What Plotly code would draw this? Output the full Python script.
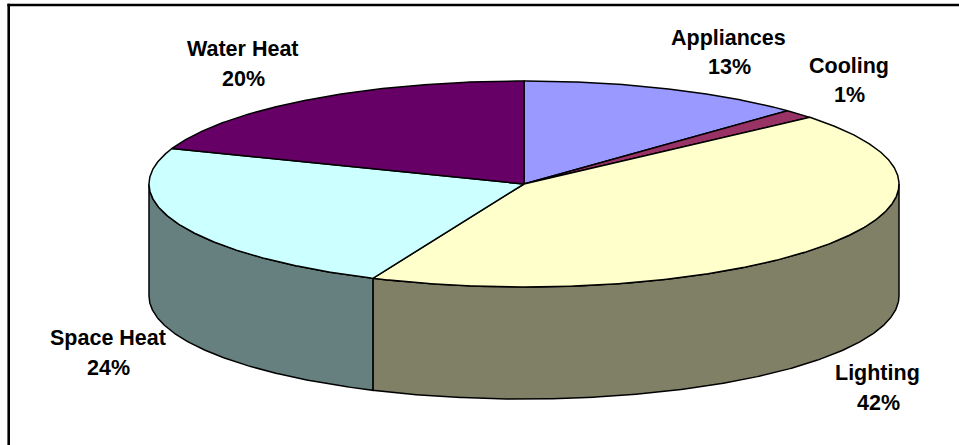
import numpy as np
import plotly.graph_objects as go

categories = ["Appliances", "Cooling", "Lighting", "Space Heat", "Water Heat"]
drawn_share = [12.4, 1.4, 42.8, 24.0, 19.4]
share_labels = ["13%", "1%", "42%", "24%", "20%"]
top_colors = ["#9999FF", "#993366", "#FFFFCC", "#CCFFFF", "#660066"]
side_colors = ["#4D4D80", "#4D1A33", "#808066", "#668080", "#330033"]
name_pos = [(728, 38), (849, 66), (877, 373), (108, 338), (243, 49)]
share_pos = [(729, 67), (849, 95), (878, 403), (108, 368), (243, 79)]

CX, CY, RX, RY, DEPTH = 524, 184, 375, 103, 112
EDGE = dict(color="black", width=1.5)


def ellipse(deg, dy=0.0):
    a = np.radians(deg)
    return CX + RX * np.sin(a), CY - RY * np.cos(a) + dy


def arc(a0, a1):
    return np.linspace(a0, a1, max(2, int(abs(a1 - a0) * 3)))


fig = go.Figure()
edges = np.concatenate([[0], np.cumsum(drawn_share)]) / np.sum(drawn_share) * 360

# Side walls (only the front half of the disc is visible)
for i, name in enumerate(categories):
    a0, a1 = max(edges[i], 90), min(edges[i + 1], 270)
    if a1 <= a0:
        continue
    t = arc(a0, a1)
    xt, yt = ellipse(t)
    xb, yb = ellipse(t[::-1], DEPTH)
    fig.add_trace(go.Scatter(
        x=np.r_[xt, xb, xt[0]], y=np.r_[yt, yb, yt[0]], mode="lines",
        fill="toself", fillcolor=side_colors[i], line=EDGE, hoverinfo="skip"))

# Top faces
for i, name in enumerate(categories):
    t = arc(edges[i], edges[i + 1])
    xt, yt = ellipse(t)
    fig.add_trace(go.Scatter(
        x=np.r_[CX, xt, CX], y=np.r_[CY, yt, CY], mode="lines",
        fill="toself", fillcolor=top_colors[i], line=EDGE, name=name, hoverinfo="name"))

FONT = dict(family="Liberation Sans", size=21.5, color="black")
for name, share, pn, ps in zip(categories, share_labels, name_pos, share_pos):
    fig.add_annotation(x=pn[0], y=pn[1], text=f"<b>{name}</b>", showarrow=False, font=FONT)
    fig.add_annotation(x=ps[0], y=ps[1], text=f"<b>{share}</b>", showarrow=False, font=FONT)

# Chart frame: only the left and top rules are in view
frame = dict(color="black", width=2.6)
fig.add_shape(type="line", x0=8.7, x1=8.7, y0=3.7, y1=445, line=frame, layer="below")
fig.add_shape(type="line", x0=7.4, x1=959, y0=5, y1=5, line=frame, layer="below")

fig.update_layout(
    width=959, height=445, margin=dict(l=0, r=0, t=0, b=0),
    paper_bgcolor="white", plot_bgcolor="white", showlegend=False,
    xaxis=dict(range=[0, 959], visible=False, fixedrange=True),
    yaxis=dict(range=[445, 0], visible=False, fixedrange=True),
)
fig.write_html(
    "out.html",
    config={"displayModeBar": False},
    post_script="document.body.style.margin='0';document.body.style.overflow='hidden';",
)
